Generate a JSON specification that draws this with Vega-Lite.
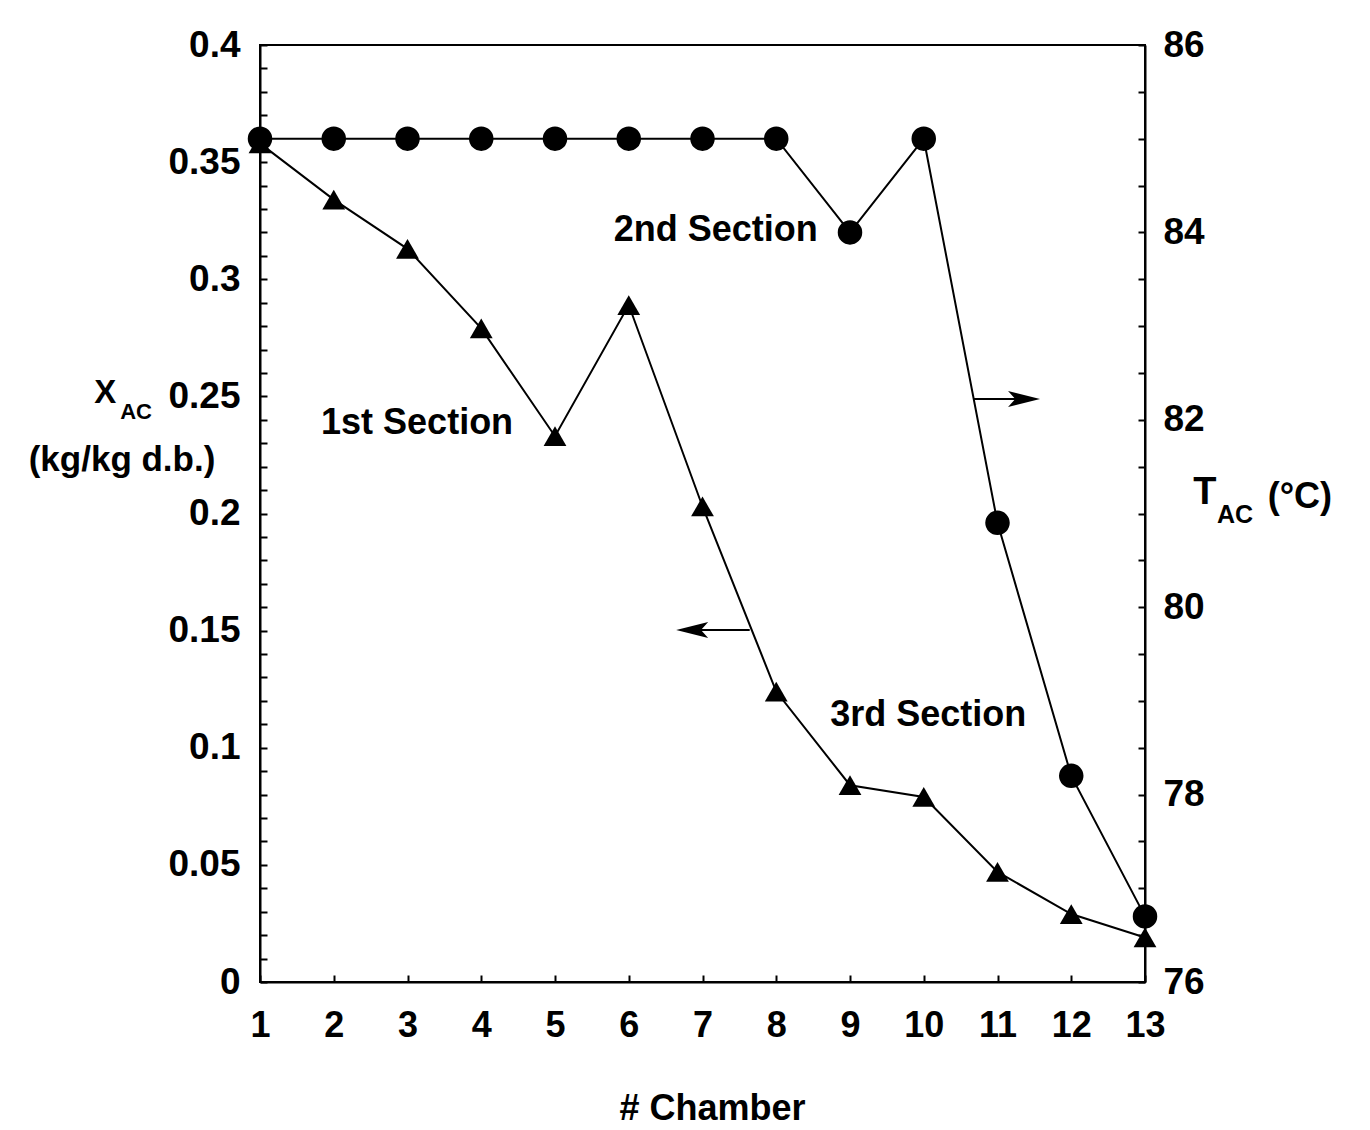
{
  "$schema": "https://vega.github.io/schema/vega-lite/v6.json",
  "width": 885,
  "height": 937,
  "autosize": {"type": "none"},
  "padding": {"left": 260, "top": 45, "right": 225, "bottom": 148},
  "background": "white",
  "data": {"values": [
    {"chamber": 1, "X": 0.358, "T": 85.0},
    {"chamber": 2, "X": 0.334, "T": 85.0},
    {"chamber": 3, "X": 0.313, "T": 85.0},
    {"chamber": 4, "X": 0.279, "T": 85.0},
    {"chamber": 5, "X": 0.233, "T": 85.0},
    {"chamber": 6, "X": 0.289, "T": 85.0},
    {"chamber": 7, "X": 0.203, "T": 85.0},
    {"chamber": 8, "X": 0.124, "T": 85.0},
    {"chamber": 9, "X": 0.084, "T": 84.0},
    {"chamber": 10, "X": 0.079, "T": 85.0},
    {"chamber": 11, "X": 0.047, "T": 80.9},
    {"chamber": 12, "X": 0.029, "T": 78.2},
    {"chamber": 13, "X": 0.019, "T": 76.7}
  ]},
  "layer": [
    {
      "layer": [
        {
          "mark": {"type": "line", "color": "black", "strokeWidth": 2},
          "encoding": {
            "x": {"field": "chamber", "type": "quantitative",
              "scale": {"domain": [1, 13], "nice": false, "zero": false},
              "axis": {"values": [1,2,3,4,5,6,7,8,9,10,11,12,13], "format": "d", "tickCount": 100,
                "title": "# Chamber", "titleFontSize": 36, "titleFontWeight": "bold", "titleFont": "Liberation Sans", "titlePadding": 48, "titleX": 452,
                "labelPadding": 33, "labelFlush": false, "labelFontSize": 36}},
            "y": {"field": "X", "type": "quantitative",
              "scale": {"domain": [0, 0.4], "nice": false, "zero": false},
              "axis": {"orient": "left", "title": null, "labelPadding": 27, "tickCount": 100, "labelFontSize": 37,
                "values": [0,0.01,0.02,0.03,0.04,0.05,0.06,0.07,0.08,0.09,0.1,0.11,0.12,0.13,0.14,0.15,0.16,0.17,0.18,0.19,0.2,0.21,0.22,0.23,0.24,0.25,0.26,0.27,0.28,0.29,0.3,0.31,0.32,0.33,0.34,0.35,0.36,0.37,0.38,0.39,0.4],
                "labelExpr": "round(datum.value*100) % 5 == 0 ? '' + datum.value : ''"}}
          }
        },
        {
          "mark": {"type": "point", "shape": "triangle-up", "filled": true, "color": "black", "size": 520, "opacity": 1},
          "encoding": {
            "x": {"field": "chamber", "type": "quantitative"},
            "y": {"field": "X", "type": "quantitative"}
          }
        },
        {
          "data": {"values": [{}]},
          "mark": {"type": "text", "text": "1st Section", "font": "Liberation Sans", "fontWeight": "bold", "fontSize": 36, "align": "center", "baseline": "middle", "color": "black"},
          "encoding": {"x": {"datum": 3.13, "type": "quantitative"}, "y": {"datum": 0.2386, "type": "quantitative"}}
        },
        {
          "data": {"values": [{}]},
          "mark": {"type": "text", "text": "2nd Section", "font": "Liberation Sans", "fontWeight": "bold", "fontSize": 36, "align": "center", "baseline": "middle", "color": "black"},
          "encoding": {"x": {"datum": 7.18, "type": "quantitative"}, "y": {"datum": 0.321, "type": "quantitative"}}
        },
        {
          "data": {"values": [{}]},
          "mark": {"type": "text", "text": "3rd Section", "font": "Liberation Sans", "fontWeight": "bold", "fontSize": 36, "align": "center", "baseline": "middle", "color": "black"},
          "encoding": {"x": {"datum": 10.06, "type": "quantitative"}, "y": {"datum": 0.114, "type": "quantitative"}}
        },
        {
          "data": {"values": [{}]},
          "mark": {"type": "text", "text": "X", "font": "Liberation Sans", "fontWeight": "bold", "fontSize": 33, "align": "center", "baseline": "middle", "color": "black"},
          "encoding": {"x": {"datum": -1.1, "type": "quantitative"}, "y": {"datum": 0.2514, "type": "quantitative"}}
        },
        {
          "data": {"values": [{}]},
          "mark": {"type": "text", "text": "AC", "font": "Liberation Sans", "fontWeight": "bold", "fontSize": 22, "align": "center", "baseline": "middle", "color": "black"},
          "encoding": {"x": {"datum": -0.68, "type": "quantitative"}, "y": {"datum": 0.2433, "type": "quantitative"}}
        },
        {
          "data": {"values": [{}]},
          "mark": {"type": "text", "text": "(kg/kg d.b.)", "font": "Liberation Sans", "fontWeight": "bold", "fontSize": 35, "align": "center", "baseline": "middle", "color": "black"},
          "encoding": {"x": {"datum": -0.871, "type": "quantitative"}, "y": {"datum": 0.2228, "type": "quantitative"}}
        },
        {
          "data": {"values": [{}]},
          "mark": {"type": "text", "text": "T", "font": "Liberation Sans", "fontWeight": "bold", "fontSize": 38, "align": "center", "baseline": "middle", "color": "black"},
          "encoding": {"x": {"datum": 13.81, "type": "quantitative"}, "y": {"datum": 0.2088, "type": "quantitative"}}
        },
        {
          "data": {"values": [{}]},
          "mark": {"type": "text", "text": "AC", "font": "Liberation Sans", "fontWeight": "bold", "fontSize": 25, "align": "center", "baseline": "middle", "color": "black"},
          "encoding": {"x": {"datum": 14.22, "type": "quantitative"}, "y": {"datum": 0.1994, "type": "quantitative"}}
        },
        {
          "data": {"values": [{}]},
          "mark": {"type": "text", "text": "(°C)", "font": "Liberation Sans", "fontWeight": "bold", "fontSize": 36, "align": "center", "baseline": "middle", "color": "black"},
          "encoding": {"x": {"datum": 15.1, "type": "quantitative"}, "y": {"datum": 0.207, "type": "quantitative"}}
        },
        {
          "data": {"values": [{}]},
          "mark": {"type": "rule", "color": "black", "strokeWidth": 2},
          "encoding": {"x": {"datum": 10.67, "type": "quantitative"}, "x2": {"datum": 11.3}, "y": {"datum": 0.2489, "type": "quantitative"}}
        },
        {
          "data": {"values": [{}]},
          "mark": {"type": "point", "shape": "M1,0L-1,-0.5L-0.55,0L-1,0.5Z", "filled": true, "color": "black", "size": 1024, "opacity": 1},
          "encoding": {"x": {"datum": 11.36, "type": "quantitative"}, "y": {"datum": 0.2489, "type": "quantitative"}}
        },
        {
          "data": {"values": [{}]},
          "mark": {"type": "rule", "color": "black", "strokeWidth": 2},
          "encoding": {"x": {"datum": 6.95, "type": "quantitative"}, "x2": {"datum": 7.64}, "y": {"datum": 0.1503, "type": "quantitative"}}
        },
        {
          "data": {"values": [{}]},
          "mark": {"type": "point", "shape": "M-1,0L1,-0.5L0.55,0L1,0.5Z", "filled": true, "color": "black", "size": 1024, "opacity": 1},
          "encoding": {"x": {"datum": 6.86, "type": "quantitative"}, "y": {"datum": 0.1503, "type": "quantitative"}}
        }
      ]
    },
    {
      "layer": [
        {
          "mark": {"type": "line", "color": "black", "strokeWidth": 2},
          "encoding": {
            "x": {"field": "chamber", "type": "quantitative"},
            "y": {"field": "T", "type": "quantitative",
              "scale": {"domain": [76, 86], "nice": false, "zero": false},
              "axis": {"orient": "right", "title": null, "labelPadding": 25, "tickCount": 100, "labelFontSize": 37,
                "values": [76,76.5,77,77.5,78,78.5,79,79.5,80,80.5,81,81.5,82,82.5,83,83.5,84,84.5,85,85.5,86],
                "labelExpr": "datum.value % 2 == 0 ? '' + datum.value : ''"}}
          }
        },
        {
          "mark": {"type": "point", "shape": "circle", "filled": true, "color": "black", "size": 600, "opacity": 1},
          "encoding": {
            "x": {"field": "chamber", "type": "quantitative"},
            "y": {"field": "T", "type": "quantitative"}
          }
        }
      ]
    }
  ],
  "resolve": {"scale": {"y": "independent"}},
  "config": {
    "font": "Liberation Sans",
    "view": {"stroke": "black", "strokeWidth": 2},
    "axis": {
      "domainColor": "black", "domainWidth": 2,
      "tickColor": "black", "tickWidth": 2, "tickSize": -7,
      "labelColor": "black", "labelFont": "Liberation Sans", "labelFontWeight": "bold",
      "grid": false, "labelOverlap": false, "labelBound": false, "labelFlush": false,
      "titleColor": "black"
    }
  }
}
